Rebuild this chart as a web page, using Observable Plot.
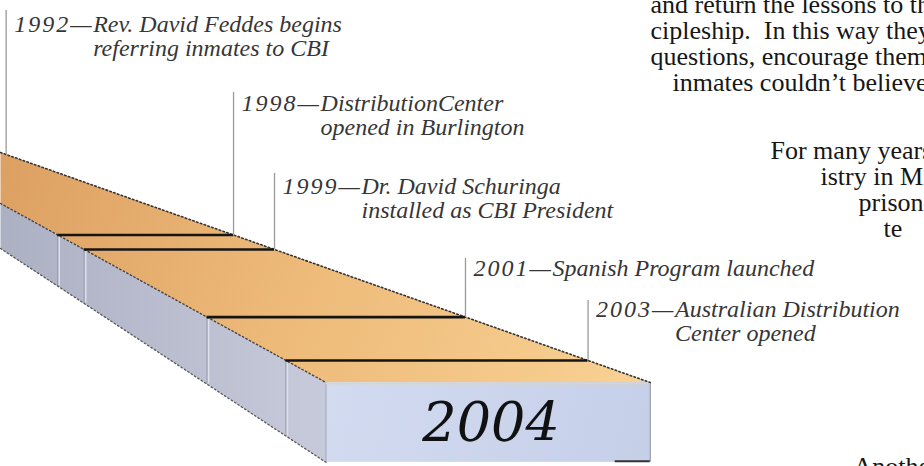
<!DOCTYPE html>
<html>
<head>
<meta charset="utf-8">
<script src="https://cdn.jsdelivr.net/npm/d3@7"></script>
<script src="https://cdn.jsdelivr.net/npm/@observablehq/plot@0.6"></script>
<style>
  html, body { margin: 0; padding: 0; background: #fff; overflow: hidden; }
  #chart svg { display: block; overflow: hidden; }
</style>
</head>
<body>
<div id="chart"></div>
<script>
// ---------------- data ----------------
const eventYears = [1992, 1998, 1999, 2001, 2003];
const eventFirstLines = [
  "Rev. David Feddes begins",
  "DistributionCenter",
  "Dr. David Schuringa",
  "Spanish Program launched",
  "Australian Distribution"
];
const eventSecondLines = [
  "referring inmates to CBI",
  "opened in Burlington",
  "installed as CBI President",
  "",
  "Center opened"
];
const currentYear = 2004;
const bodyBlockA = [
  "and return the lessons to the",
  "cipleship.  In this way they",
  "questions, encourage them",
  "inmates couldn\u2019t believe"
];
const bodyBlockB = ["For many years", "istry in Mi", "prison", "te"];
const bodyTail = ["Another"];

// ---------------- illustration layout (not data) ----------------
const W = 924, H = 466;
// depth of each year along the perspective bar (illustration scale)
const depth = d3.scaleLinear()
  .domain([1992, 1998, 1999, 2001, 2003, 2004])
  .range([154, 234.5, 249, 316.6, 360, 382]);
const upperY = x => 152 + 0.354 * x;      // far (upper) edge of top face
const lowerY = x => 203 + 0.55 * x;       // near edge of top face
const bottomY = x => 248 + 0.657 * x;     // bottom edge of side face
const upperX = y => (y - 152) / 0.354;
const lowerX = y => (y - 203) / 0.55;
const frontY = depth(currentYear);
const frontX1 = lowerX(frontY), frontX2 = upperX(frontY);
const frontBottom = bottomY(frontX1);

const labelFont = 24, labelGap = 24, descOffset = 79, yearPad = 8;
const labelBaseline = [31, 110, 193, 275, 316];
const leaderTop = [10, 92, 173, 258, 300];
const bodyFont = 26;
const blockAx = [650, 650, 650, 672], blockAbase = 12, blockAstep = 26.3;
const blockBx = [770, 820, 858, 883], blockBbase = 158, blockBstep = 26;
const tailX = 853, tailBase = 474;

// ---------------- derived tables ----------------
const events = eventYears.map((year, i) => ({
  year, line1: eventFirstLines[i], line2: eventSecondLines[i],
  d: depth(year), base: labelBaseline[i], top: leaderTop[i]
}));
const labelRows = events.flatMap(e => [
  {e, text: e.line1, base: e.base},
  ...(e.line2 ? [{e, text: e.line2, base: e.base + labelGap}] : [])
]);
const inner = events.filter(e => lowerX(e.d) > 0);

const topFace = [
  {x: 0, y: upperY(0)}, {x: frontX2, y: frontY}, {x: frontX1, y: frontY}, {x: 0, y: lowerY(0)}
];
const sideFace = [
  {x: 0, y: lowerY(0)}, {x: frontX1, y: frontY}, {x: frontX1, y: frontBottom}, {x: 0, y: bottomY(0)}
];
const bodyRows = [
  ...bodyBlockA.map((t, i) => ({t, x: blockAx[i], base: blockAbase + i * blockAstep})),
  ...bodyBlockB.map((t, i) => ({t, x: blockBx[i], base: blockBbase + i * blockBstep})),
  ...bodyTail.map(t => ({t, x: tailX, base: tailBase}))
];

const serif = "'Liberation Serif', 'Times New Roman', serif";

const chart = Plot.plot({
  width: W, height: H, margin: 0,
  x: {domain: [0, W], range: [0, W], axis: null},
  y: {domain: [0, H], range: [0, H], axis: null},
  style: {background: "white", overflow: "hidden"},
  marks: [
    // side face
    Plot.line(sideFace, {x: "x", y: "y", fill: "url(#sideGrad)", stroke: "none"}),
    // side dividers
    Plot.ruleX(inner, {x: e => lowerX(e.d), y1: e => lowerY(lowerX(e.d)), y2: e => bottomY(lowerX(e.d)), stroke: "#9296a8", strokeWidth: 1}),
    Plot.ruleX(inner, {x: e => lowerX(e.d), dx: 1.5, y1: e => lowerY(lowerX(e.d)) + 2, y2: e => bottomY(lowerX(e.d)), stroke: "#dfe2ec", strokeWidth: 1.5}),
    // top face
    Plot.line(topFace, {x: "x", y: "y", fill: "url(#topGrad)", stroke: "none"}),
    // front face
    Plot.rect([currentYear], {x1: frontX1, x2: frontX2, y1: frontY, y2: frontBottom, fill: "url(#frontGrad)"}),
    Plot.ruleX([currentYear], {x: frontX2, y1: frontY, y2: frontBottom, stroke: "#8c90a0", strokeWidth: 1.2}),
    Plot.ruleX([currentYear], {x: frontX1, y1: frontY, y2: frontBottom, stroke: "#9ea2b2", strokeWidth: 1}),
    Plot.ruleY([currentYear], {y: frontBottom - 1, x1: frontX2 - 35, x2: frontX2, stroke: "#333", strokeWidth: 2}),
    Plot.ruleY([currentYear], {y: frontY + 1, x1: frontX1, x2: frontX2, stroke: "#e9d2b0", strokeWidth: 1.5}),
    // dotted edges
    Plot.line([{x: 0, y: upperY(0)}, {x: frontX2, y: frontY}], {x: "x", y: "y", stroke: "#333", strokeWidth: 1.6, strokeDasharray: "1.5,2.5"}),
    Plot.line([{x: 0, y: lowerY(0)}, {x: frontX1, y: frontY}], {x: "x", y: "y", stroke: "#444", strokeWidth: 1.4, strokeDasharray: "1.5,2.5"}),
    Plot.line([{x: 0, y: bottomY(0)}, {x: frontX1, y: frontBottom}], {x: "x", y: "y", stroke: "#555", strokeWidth: 1.3, strokeDasharray: "1.5,2.5"}),
    // event cross lines on the top face
    Plot.ruleY(inner, {y: "d", x1: e => lowerX(e.d), x2: e => upperX(e.d), stroke: "#151515", strokeWidth: 2.6}),
    // leader lines
    Plot.ruleX(events, {x: e => upperX(e.d), y1: "top", y2: "d", stroke: "#9a9a9a", strokeWidth: 1.3}),
    // year labels
    Plot.text(events, {
      x: e => upperX(e.d) + yearPad, y: e => e.base - 0.32 * labelFont,
      text: e => `${e.year}\u2014`, textAnchor: "start",
      fontFamily: serif, fontStyle: "italic", fontSize: labelFont, fill: "#363636"
    }),
    Plot.text(labelRows, {
      x: r => upperX(r.e.d) + yearPad + descOffset, y: r => r.base - 0.32 * labelFont,
      text: "text", textAnchor: "start",
      fontFamily: serif, fontStyle: "italic", fontSize: labelFont, fill: "#363636"
    }),
    // current year on front face
    Plot.text([currentYear], {
      x: (frontX1 + frontX2) / 2 + 3, y: 440 - 0.32 * 54, text: d => String(d),
      fontFamily: "'DejaVu Serif', serif", fontStyle: "italic", fontSize: 54, fill: "#111"
    }),
    // body copy
    Plot.text(bodyRows, {
      x: "x", y: r => r.base - 0.32 * bodyFont, text: "t", textAnchor: "start",
      fontFamily: serif, fontSize: bodyFont, fill: "#161616"
    })
  ]
});

// gradients
const ns = "http://www.w3.org/2000/svg";
const defs = document.createElementNS(ns, "defs");
defs.innerHTML = `
  <linearGradient id="topGrad" gradientUnits="userSpaceOnUse" x1="0" y1="150" x2="650" y2="382">
    <stop offset="0" stop-color="#dca062"/>
    <stop offset="0.45" stop-color="#edb978"/>
    <stop offset="1" stop-color="#f8d294"/>
  </linearGradient>
  <linearGradient id="sideGrad" gradientUnits="userSpaceOnUse" x1="0" y1="0" x2="325" y2="0">
    <stop offset="0" stop-color="#acb0c3"/>
    <stop offset="1" stop-color="#c6cada"/>
  </linearGradient>
  <linearGradient id="frontGrad" gradientUnits="userSpaceOnUse" x1="325" y1="382" x2="650" y2="463">
    <stop offset="0" stop-color="#d2dbf0"/>
    <stop offset="1" stop-color="#c5cfe8"/>
  </linearGradient>`;
chart.insertBefore(defs, chart.firstChild);
// widen the year + dash so it runs into the description, as in the print
d3.select(chart).selectAll("text")
  .filter(function () { return /^\d{4}\u2014$/.test(this.textContent); })
  .attr("letter-spacing", "2px");
document.getElementById("chart").appendChild(chart);
</script>
</body>
</html>
